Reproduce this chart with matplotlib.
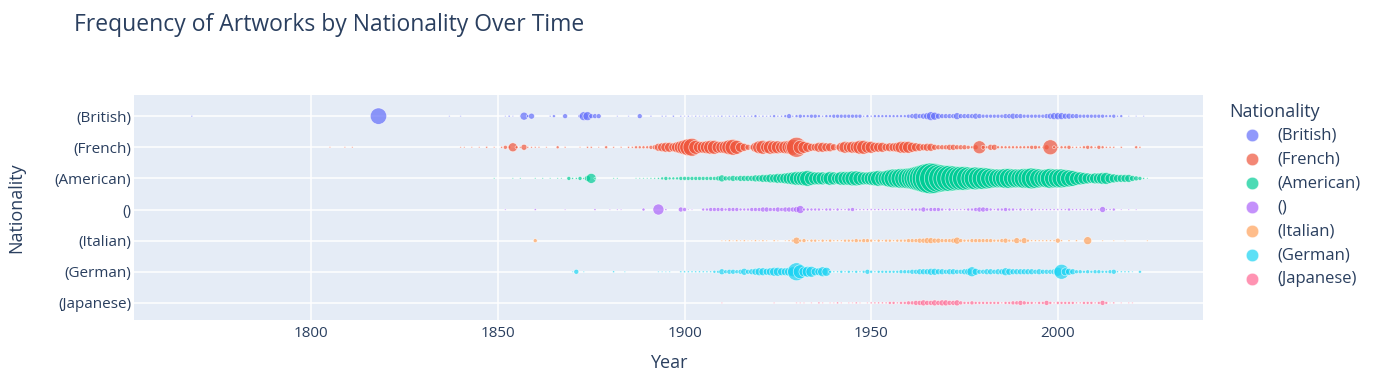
import matplotlib.pyplot as plt
from matplotlib.lines import Line2D

plt.rcParams['font.family'] = ['Open Sans', 'DejaVu Sans']

nationalities = ['(British)', '(French)', '(American)', '()', '(Italian)', '(German)', '(Japanese)']
colors = ['#636efa', '#EF553B', '#00cc96', '#ab63fa', '#FFA15A', '#19d3f3', '#FF6692']

# artworks per year (year: count)
british = {
    1768: 3, 1818: 270, 1837: 2, 1840: 2, 1852: 2, 1853: 4, 1854: 2, 1856: 2, 1857: 64, 1858: 9,
    1859: 36, 1864: 3, 1865: 9, 1868: 25, 1872: 16, 1873: 81, 1874: 81, 1875: 25, 1876: 25, 1877: 25,
    1882: 2, 1885: 2, 1888: 25, 1891: 3, 1894: 3, 1895: 3, 1897: 4, 1899: 3,
    1900: 2, 1901: 3, 1902: 2, 1903: 3, 1904: 2, 1905: 2, 1906: 3, 1907: 2, 1908: 2, 1909: 3,
    1910: 4, 1911: 2, 1912: 3, 1913: 3, 1914: 4, 1915: 3, 1916: 4, 1917: 3, 1918: 4, 1919: 9,
    1920: 3, 1921: 4, 1922: 3, 1923: 4, 1924: 9, 1925: 4, 1926: 4, 1927: 9, 1928: 25, 1929: 4,
    1930: 9, 1931: 16, 1932: 9, 1933: 9, 1934: 16, 1935: 16, 1936: 9, 1937: 4, 1938: 9, 1939: 9,
    1940: 16, 1941: 16, 1942: 16, 1943: 16, 1944: 16, 1945: 16, 1946: 16, 1947: 16, 1948: 4, 1949: 9,
    1950: 4, 1951: 9, 1952: 9, 1953: 9, 1954: 9, 1955: 9, 1956: 9, 1957: 9, 1958: 9, 1959: 9,
    1960: 16, 1961: 25, 1962: 36, 1963: 25, 1964: 36, 1965: 49, 1966: 81, 1967: 64, 1968: 36, 1969: 25,
    1970: 25, 1971: 25, 1972: 25, 1973: 49, 1974: 25, 1975: 25, 1976: 25, 1977: 25, 1978: 36, 1979: 25,
    1980: 16, 1981: 16, 1982: 16, 1983: 16, 1984: 16, 1985: 16, 1986: 25, 1987: 25, 1988: 36, 1989: 25,
    1990: 25, 1991: 16, 1992: 16, 1993: 16, 1994: 16, 1995: 16, 1996: 16, 1997: 25, 1998: 36, 1999: 49,
    2000: 49, 2001: 49, 2002: 36, 2003: 36, 2004: 25, 2005: 25, 2006: 16, 2007: 16, 2008: 16, 2009: 16,
    2010: 16, 2011: 16, 2012: 16, 2013: 9, 2014: 9, 2015: 16, 2016: 4, 2017: 9, 2019: 2, 2021: 2, 2023: 2,
}
french = {
    1805: 2, 1809: 2, 1811: 2, 1840: 2, 1841: 2, 1843: 2, 1845: 2, 1847: 4, 1849: 2, 1851: 4,
    1852: 16, 1853: 9, 1854: 81, 1855: 9, 1856: 4, 1857: 36, 1858: 4, 1859: 3, 1860: 3, 1861: 3,
    1863: 2, 1866: 9, 1868: 3, 1872: 2, 1874: 4, 1875: 4, 1877: 2, 1879: 9, 1881: 3, 1883: 3,
    1885: 4, 1886: 4, 1887: 9, 1888: 9, 1889: 9, 1890: 9, 1891: 16, 1892: 25, 1893: 64, 1894: 81,
    1895: 100, 1896: 100, 1897: 81, 1898: 121, 1899: 169, 1900: 225, 1901: 289, 1902: 324, 1903: 196, 1904: 144,
    1905: 144, 1906: 169, 1907: 196, 1908: 196, 1909: 144, 1910: 144, 1911: 169, 1912: 225, 1913: 256, 1914: 196,
    1915: 100, 1916: 64, 1917: 36, 1918: 25, 1919: 100, 1920: 169, 1921: 196, 1922: 144, 1923: 196, 1924: 169,
    1925: 169, 1926: 144, 1927: 169, 1928: 196, 1929: 256, 1930: 400, 1931: 196, 1932: 144, 1933: 100, 1934: 64,
    1935: 64, 1936: 100, 1937: 100, 1938: 81, 1939: 81, 1940: 49, 1941: 25, 1942: 100, 1943: 144, 1944: 121,
    1945: 144, 1946: 144, 1947: 196, 1948: 196, 1949: 144, 1950: 144, 1951: 100, 1952: 100, 1953: 100, 1954: 64,
    1955: 81, 1956: 81, 1957: 100, 1958: 144, 1959: 144, 1960: 144, 1961: 100, 1962: 81, 1963: 64, 1964: 49,
    1965: 64, 1966: 64, 1967: 36, 1968: 25, 1969: 25, 1970: 25, 1971: 36, 1972: 36, 1973: 25, 1974: 25,
    1975: 25, 1976: 16, 1977: 9, 1978: 25, 1979: 169, 1980: 16, 1981: 9, 1982: 36, 1983: 36, 1984: 9,
    1985: 9, 1986: 9, 1987: 9, 1988: 9, 1989: 9, 1990: 9, 1991: 9, 1992: 9, 1993: 16, 1994: 16,
    1995: 9, 1996: 4, 1997: 25, 1998: 225, 1999: 9, 2000: 4, 2001: 9, 2002: 9, 2003: 16, 2004: 4,
    2005: 4, 2006: 4, 2007: 9, 2008: 16, 2009: 9, 2010: 4, 2011: 16, 2012: 9, 2013: 4, 2014: 4,
    2015: 4, 2017: 4, 2021: 9, 2022: 4,
}
american = {
    1849: 2, 1854: 2, 1856: 2, 1860: 2, 1862: 2, 1864: 2, 1866: 2, 1867: 2, 1869: 16, 1870: 4,
    1871: 4, 1872: 16, 1873: 4, 1874: 36, 1875: 100, 1876: 4, 1881: 2, 1882: 2, 1887: 2, 1888: 2,
    1889: 2, 1890: 2, 1891: 3, 1892: 3, 1893: 4, 1894: 9, 1895: 16, 1896: 9, 1897: 9, 1898: 9,
    1899: 16, 1900: 16, 1901: 16, 1902: 16, 1903: 16, 1904: 16, 1905: 16, 1906: 16, 1907: 16, 1908: 16,
    1909: 25, 1910: 49, 1911: 25, 1912: 25, 1913: 36, 1914: 25, 1915: 36, 1916: 36, 1917: 36, 1918: 36,
    1919: 49, 1920: 49, 1921: 64, 1922: 64, 1923: 81, 1924: 81, 1925: 100, 1926: 100, 1927: 121, 1928: 144,
    1929: 169, 1930: 196, 1931: 196, 1932: 225, 1933: 256, 1934: 196, 1935: 169, 1936: 169, 1937: 169, 1938: 144,
    1939: 196, 1940: 169, 1941: 144, 1942: 196, 1943: 196, 1944: 196, 1945: 225, 1946: 225, 1947: 196, 1948: 169,
    1949: 169, 1950: 196, 1951: 225, 1952: 256, 1953: 225, 1954: 256, 1955: 324, 1956: 361, 1957: 361, 1958: 400,
    1959: 400, 1960: 441, 1961: 484, 1962: 576, 1963: 676, 1964: 784, 1965: 900, 1966: 961, 1967: 900, 1968: 784,
    1969: 729, 1970: 676, 1971: 676, 1972: 625, 1973: 576, 1974: 576, 1975: 576, 1976: 529, 1977: 484, 1978: 529,
    1979: 484, 1980: 484, 1981: 441, 1982: 400, 1983: 361, 1984: 361, 1985: 361, 1986: 400, 1987: 400, 1988: 361,
    1989: 361, 1990: 361, 1991: 400, 1992: 400, 1993: 441, 1994: 400, 1995: 361, 1996: 324, 1997: 361, 1998: 400,
    1999: 361, 2000: 361, 2001: 361, 2002: 324, 2003: 289, 2004: 256, 2005: 196, 2006: 169, 2007: 144, 2008: 121,
    2009: 100, 2010: 121, 2011: 121, 2012: 144, 2013: 144, 2014: 100, 2015: 81, 2016: 64, 2017: 64, 2018: 64,
    2019: 64, 2020: 36, 2021: 25, 2022: 16, 2023: 4, 2024: 2,
}
unknown = {
    1852: 2, 1860: 4, 1868: 2, 1876: 4, 1880: 2, 1882: 2, 1883: 2, 1889: 9, 1893: 121, 1895: 4,
    1899: 25, 1900: 16, 1901: 2, 1902: 2, 1905: 9, 1906: 9, 1907: 16, 1908: 16, 1909: 16, 1910: 16,
    1911: 9, 1912: 16, 1913: 16, 1914: 16, 1915: 9, 1916: 9, 1917: 9, 1918: 16, 1919: 16, 1920: 16,
    1921: 25, 1922: 25, 1923: 16, 1924: 16, 1925: 25, 1926: 16, 1927: 25, 1928: 25, 1929: 25, 1930: 36,
    1931: 64, 1932: 9, 1933: 9, 1934: 9, 1935: 9, 1936: 9, 1937: 4, 1938: 9, 1939: 9, 1940: 4,
    1941: 9, 1942: 4, 1943: 4, 1944: 9, 1945: 16, 1946: 4, 1947: 4, 1948: 4, 1949: 4, 1950: 4,
    1951: 4, 1952: 4, 1953: 4, 1954: 4, 1955: 4, 1956: 4, 1957: 4, 1958: 4, 1959: 4, 1960: 4,
    1961: 9, 1962: 9, 1963: 9, 1964: 25, 1965: 9, 1966: 16, 1967: 16, 1968: 16, 1969: 9, 1970: 4,
    1971: 9, 1972: 4, 1973: 4, 1974: 4, 1975: 4, 1976: 9, 1977: 9, 1978: 16, 1979: 25, 1980: 25,
    1981: 16, 1982: 9, 1983: 4, 1984: 9, 1985: 9, 1986: 16, 1987: 9, 1988: 9, 1989: 4, 1990: 9,
    1991: 4, 1992: 4, 1993: 9, 1994: 4, 1995: 4, 1996: 4, 1997: 4, 1998: 4, 1999: 4, 2000: 4,
    2001: 4, 2002: 4, 2003: 9, 2004: 4, 2005: 4, 2006: 4, 2007: 4, 2008: 4, 2009: 9, 2010: 4,
    2011: 4, 2012: 36, 2013: 4, 2014: 4, 2015: 9, 2017: 2, 2019: 2, 2021: 2,
}
italian = {
    1860: 16, 1910: 2, 1911: 2, 1912: 4, 1913: 2, 1914: 4, 1915: 2, 1916: 4, 1917: 2, 1918: 2,
    1919: 4, 1920: 2, 1921: 4, 1922: 2, 1924: 4, 1925: 2, 1927: 2, 1928: 4, 1929: 9, 1930: 49,
    1931: 9, 1932: 16, 1933: 4, 1934: 9, 1935: 9, 1936: 4, 1937: 9, 1938: 4, 1939: 9, 1940: 4,
    1941: 4, 1942: 4, 1943: 9, 1944: 9, 1945: 9, 1946: 16, 1947: 9, 1948: 16, 1949: 16, 1950: 9,
    1951: 4, 1952: 9, 1953: 4, 1954: 9, 1955: 9, 1956: 4, 1957: 9, 1958: 9, 1959: 9, 1960: 16,
    1961: 16, 1962: 16, 1963: 25, 1964: 25, 1965: 36, 1966: 36, 1967: 25, 1968: 25, 1969: 16, 1970: 16,
    1971: 16, 1972: 25, 1973: 49, 1974: 16, 1975: 9, 1976: 9, 1977: 16, 1978: 16, 1979: 16, 1980: 16,
    1981: 16, 1982: 16, 1983: 9, 1984: 9, 1985: 16, 1986: 25, 1987: 9, 1988: 9, 1989: 36, 1990: 9,
    1991: 36, 1992: 9, 1993: 4, 1994: 4, 1995: 4, 1996: 4, 1997: 4, 1998: 4, 1999: 4, 2000: 25,
    2001: 4, 2003: 4, 2005: 4, 2008: 64, 2012: 2, 2015: 2, 2018: 2, 2024: 2,
}
german = {
    1870: 2, 1871: 25, 1873: 2, 1881: 4, 1884: 2, 1893: 2, 1894: 2, 1895: 2, 1896: 2, 1899: 4,
    1900: 4, 1901: 4, 1902: 4, 1903: 4, 1904: 4, 1905: 4, 1906: 4, 1907: 4, 1908: 9, 1909: 9,
    1910: 36, 1911: 16, 1912: 25, 1913: 25, 1914: 16, 1915: 25, 1916: 49, 1917: 25, 1918: 36, 1919: 49,
    1920: 64, 1921: 64, 1922: 49, 1923: 64, 1924: 81, 1925: 81, 1926: 64, 1927: 64, 1928: 81, 1929: 100,
    1930: 324, 1931: 196, 1932: 100, 1933: 121, 1934: 121, 1935: 64, 1936: 64, 1937: 100, 1938: 81, 1939: 9,
    1940: 4, 1941: 4, 1942: 9, 1943: 4, 1944: 9, 1945: 4, 1946: 9, 1947: 4, 1948: 9, 1949: 25,
    1950: 9, 1951: 4, 1952: 9, 1953: 9, 1954: 9, 1955: 9, 1956: 9, 1957: 9, 1958: 16, 1959: 16,
    1960: 16, 1961: 25, 1962: 25, 1963: 36, 1964: 36, 1965: 36, 1966: 49, 1967: 49, 1968: 36, 1969: 36,
    1970: 25, 1971: 36, 1972: 36, 1973: 25, 1974: 25, 1975: 36, 1976: 49, 1977: 100, 1978: 49, 1979: 25,
    1980: 25, 1981: 36, 1982: 36, 1983: 25, 1984: 36, 1985: 36, 1986: 64, 1987: 49, 1988: 36, 1989: 36,
    1990: 36, 1991: 36, 1992: 36, 1993: 36, 1994: 25, 1995: 36, 1996: 25, 1997: 25, 1998: 25, 1999: 36,
    2000: 81, 2001: 225, 2002: 64, 2003: 49, 2004: 36, 2005: 16, 2006: 16, 2007: 9, 2008: 16, 2009: 9,
    2010: 16, 2011: 16, 2012: 9, 2013: 9, 2014: 16, 2015: 25, 2016: 4, 2017: 4, 2018: 4, 2019: 4,
    2020: 2, 2022: 9,
}
japanese = {
    1910: 2, 1924: 2, 1930: 2, 1931: 2, 1932: 2, 1934: 2, 1936: 4, 1937: 2, 1939: 2, 1940: 2,
    1941: 4, 1942: 2, 1944: 2, 1945: 2, 1946: 4, 1947: 2, 1949: 2, 1950: 4, 1951: 4, 1952: 4,
    1953: 4, 1954: 4, 1955: 9, 1956: 9, 1957: 4, 1958: 9, 1959: 9, 1960: 16, 1961: 16, 1962: 25,
    1963: 25, 1964: 36, 1965: 25, 1966: 25, 1967: 36, 1968: 25, 1969: 36, 1970: 36, 1971: 25, 1972: 25,
    1973: 36, 1974: 16, 1975: 9, 1976: 9, 1977: 16, 1978: 9, 1979: 9, 1980: 9, 1981: 9, 1982: 9,
    1983: 9, 1984: 9, 1985: 4, 1986: 9, 1987: 9, 1988: 16, 1989: 16, 1990: 25, 1991: 16, 1992: 9,
    1993: 9, 1994: 4, 1995: 9, 1996: 9, 1997: 25, 1998: 9, 1999: 4, 2000: 9, 2001: 9, 2002: 9,
    2003: 9, 2004: 9, 2005: 4, 2006: 4, 2007: 9, 2008: 9, 2009: 9, 2010: 4, 2011: 9, 2012: 25,
    2013: 9, 2014: 2, 2015: 4, 2017: 2, 2019: 2, 2020: 2,
}
series = [british, french, american, unknown, italian, german, japanese]

text_color = '#2a3f5f'
bg = '#E5ECF6'

fig = plt.figure(figsize=(13.75, 3.83), dpi=100)
ax = fig.add_axes([134 / 1375, 63 / 383, 1069 / 1375, 225 / 383])
ax.set_facecolor(bg)

# bubble area proportional to count (count ~ diameter^2 in px)
size_scale = 0.72 ** 2
for i, (data, color) in enumerate(zip(series, colors)):
    years = list(data.keys())
    counts = list(data.values())
    ax.scatter(years, [i] * len(years), s=[c * size_scale for c in counts],
               color=color, alpha=0.7, edgecolors='white', linewidths=0.5, zorder=3)

ax.set_xlim(1752.5, 2038.9)
ax.set_ylim(6.55, -0.68)
ax.set_xticks([1800, 1850, 1900, 1950, 2000])
ax.set_yticks(range(len(nationalities)))
ax.set_yticklabels(nationalities)
ax.grid(True, color='white', linewidth=1.1, zorder=0)
ax.set_axisbelow(True)
ax.tick_params(length=0, labelsize=11, colors=text_color)
ax.tick_params(axis='y', pad=2)
ax.tick_params(axis='x', pad=4)
for s in ax.spines.values():
    s.set_visible(False)

ax.set_xlabel('Year', fontsize=13, color=text_color, va='center')
ax.xaxis.set_label_coords(0.5, -43 / 225)
ax.set_ylabel('Nationality', fontsize=13, color=text_color, va='center')
ax.yaxis.set_label_coords(-118 / 1069, 0.5)
fig.text(74 / 1375, 1 - 25 / 383, 'Frequency of Artworks by Nationality Over Time',
         fontsize=16.5, color=text_color, va='center', ha='left')

# legend
fig.text(1229 / 1375, 1 - 112 / 383, 'Nationality', fontsize=13, color=text_color,
         va='center', ha='left')
for i, (name, color) in enumerate(zip(nationalities, colors)):
    yf = 1 - (135 + 24 * i) / 383
    fig.add_artist(Line2D([1252 / 1375], [yf], marker='o', markersize=9, color=color,
                          alpha=0.7, markeredgecolor='white', markeredgewidth=0.5,
                          transform=fig.transFigure))
    fig.text(1277 / 1375, yf, name, fontsize=12, color=text_color, va='center', ha='left')

fig.savefig('out.png', dpi=100, facecolor='white')
